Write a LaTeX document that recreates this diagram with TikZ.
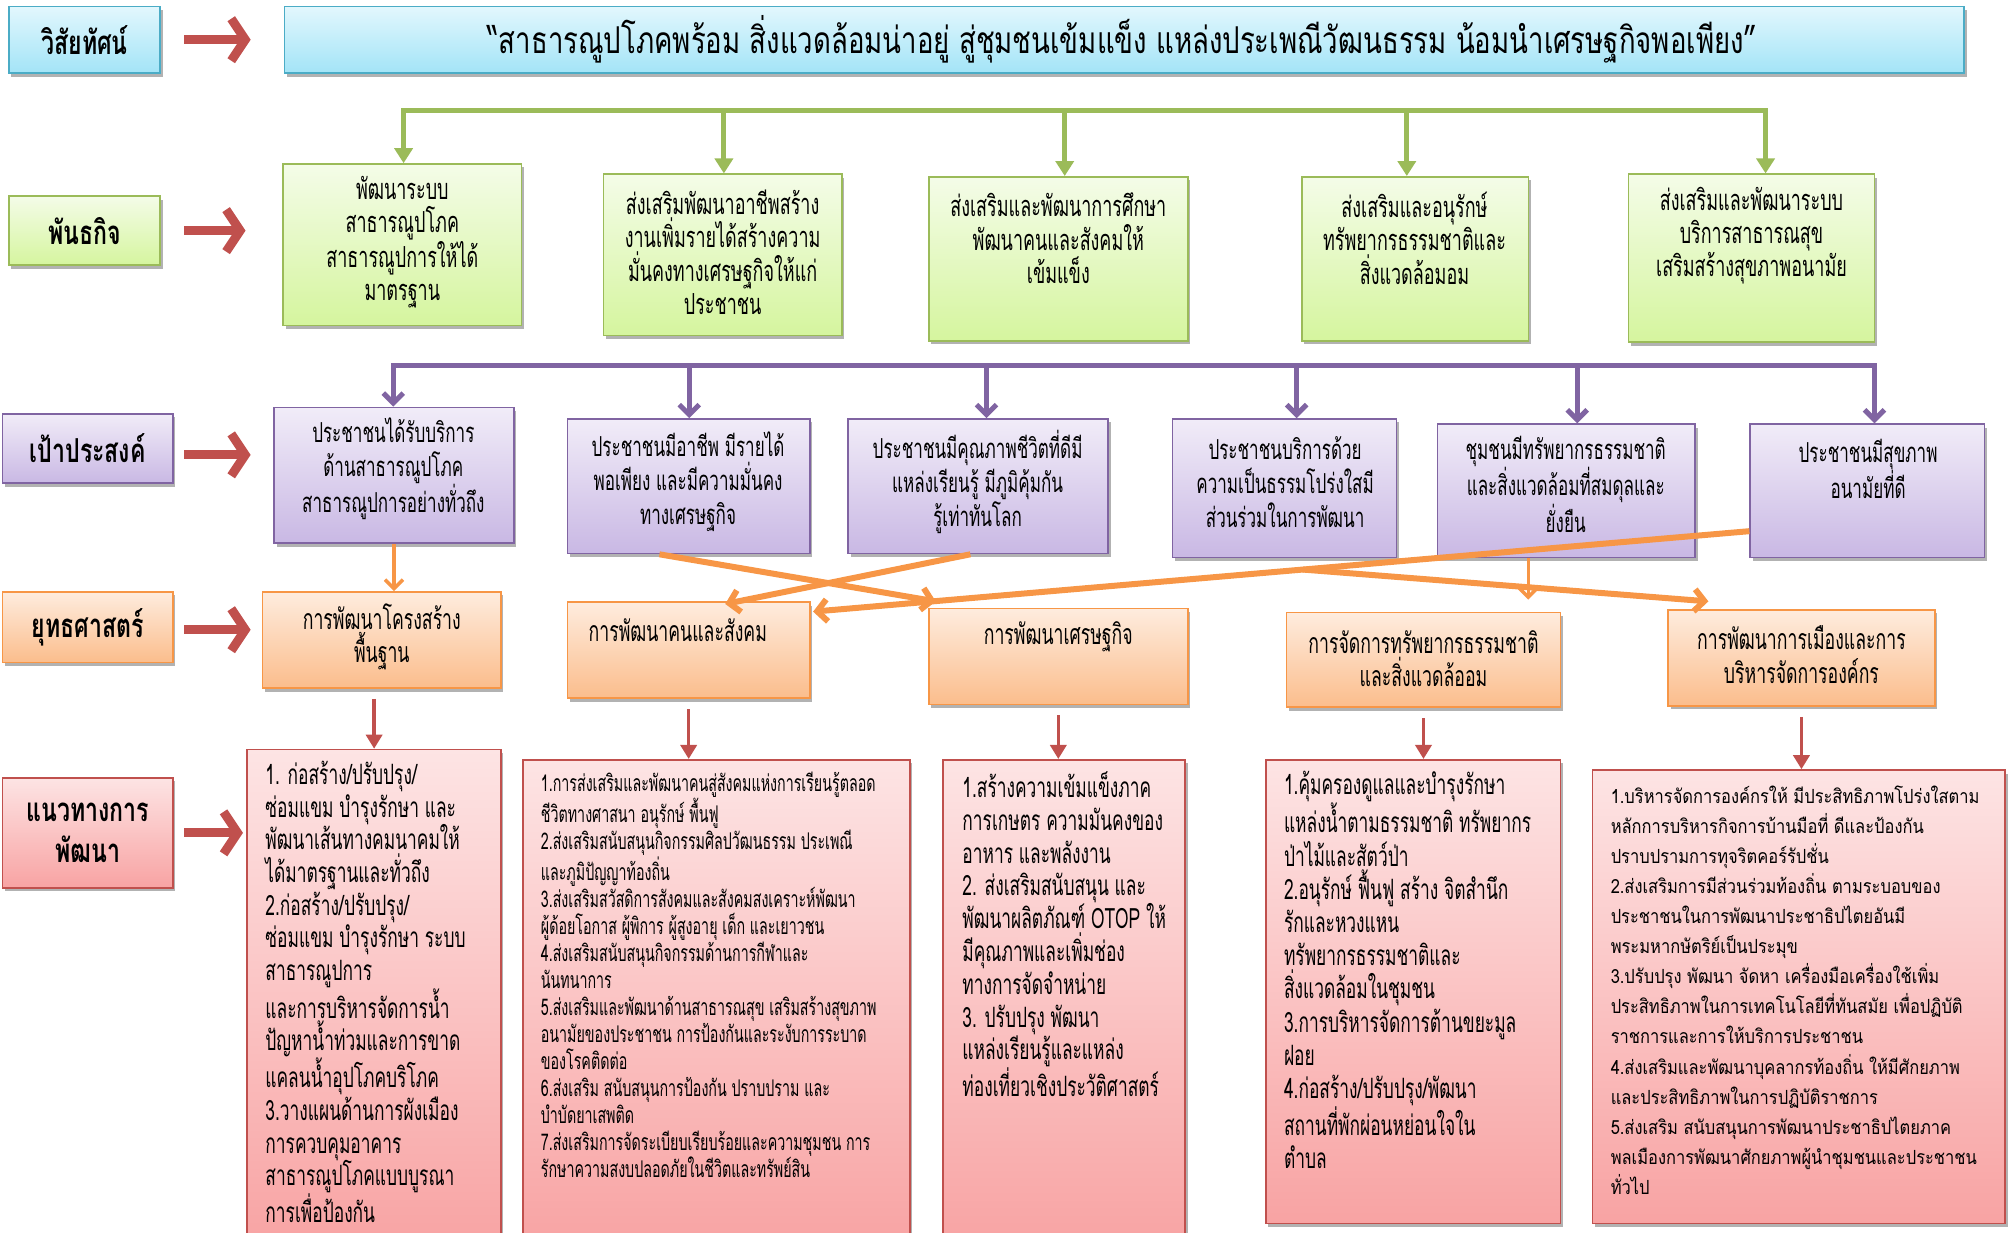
\documentclass[tikz,border=0pt]{standalone}
\usepackage{fontspec}
\newfontfamily\thaic[Script=Thai,FakeStretch=0.62]{Loma}
\newfontfamily\thaiv[Script=Thai,FakeStretch=0.745]{Loma}
\newfontfamily\thail[Script=Thai,FakeStretch=0.7]{Loma}
\newfontfamily\thaiw[Script=Thai,FakeStretch=0.845]{Loma}
\usetikzlibrary{arrows.meta,shadows,fit,calc}
\definecolor{cyanB}{HTML}{4BACC6}\definecolor{cyanT}{HTML}{E2F7FD}\definecolor{cyanD}{HTML}{A3E4F7}
\definecolor{grnB}{HTML}{9BBB59}\definecolor{grnT}{HTML}{F4FCE8}\definecolor{grnD}{HTML}{D5F59E}
\definecolor{purB}{HTML}{8064A2}\definecolor{purT}{HTML}{F1ECF8}\definecolor{purD}{HTML}{C9B8E4}
\definecolor{oraB}{HTML}{F79646}\definecolor{oraT}{HTML}{FEECDE}\definecolor{oraD}{HTML}{FBBD8C}
\definecolor{redB}{HTML}{C0504D}\definecolor{redT}{HTML}{FDE4E4}\definecolor{redD}{HTML}{F8A3A3}
\newcommand\tfMis{\thaic\fontsize{29}{33.3}\selectfont}
\newcommand\tfGoal{\thaic\fontsize{27.5}{34}\selectfont}
\newcommand\tfStr{\thaic\fontsize{28.5}{33.3}\selectfont}
\newcommand\tfGa{\thaic\fontsize{28}{32.6}\selectfont}
\newcommand\tfGb{\thaic\fontsize{23}{27}\selectfont}
\newcommand\tfGc{\thaic\fontsize{28}{32.8}\selectfont}
\newcommand\tfGd{\thaic\fontsize{28}{33.2}\selectfont}
\newcommand\tfGe{\thaiw\fontsize{19.5}{30.1}\selectfont}
\newcommand\tfVis{\thaiv\fontsize{37}{40}\selectfont}
\newcommand\tfLab{\thail\bfseries\fontsize{33}{41}\selectfont}
\tikzset{
  box/.style={draw, line width=1.6pt, inner sep=0pt,
    drop shadow={shadow xshift=2.5pt,shadow yshift=-3.5pt,opacity=0.3,fill=black}},
  cbox/.style={box, draw=cyanB, top color=cyanT, bottom color=cyanD},
  gbox/.style={box, draw=grnB, top color=grnT, bottom color=grnD},
  pbox/.style={box, draw=purB, top color=purT, bottom color=purD},
  obox/.style={box, draw=oraB, top color=oraT, bottom color=oraD},
  rbox/.style={box, draw=redB, top color=redT, bottom color=redD},
  tb/.style={inner sep=0pt, align=center, text=black},
  tl/.style={inner sep=0pt, align=left, text=black, anchor=north west},
  bigarrow/.style={draw=redB, line width=9pt, -{Straight Barb[length=14pt,width=42pt,line width=9pt]}},
  garrow/.style={draw=grnB, line width=5pt, -{Triangle[length=15pt,width=18pt]}},
  gbus/.style={draw=grnB, line width=5pt, line cap=rect},
  parrow/.style={draw=purB, line width=5pt, -{Straight Barb[length=10pt,width=20pt]}},
  pbus/.style={draw=purB, line width=5pt, line cap=rect},
  oarrow/.style={draw=oraB, line width=6pt, -{Straight Barb[length=10pt,width=22pt]}},
  othin/.style={draw=oraB, line width=3.5pt, -{Straight Barb[length=9pt,width=18pt]}},
  rarrow/.style={draw=redB, line width=3.5pt, -{Triangle[length=14pt,width=16pt]}},
}
\begin{document}
\begin{tikzpicture}[x=1.2812pt,y=-1.2812pt]
\useasboundingbox (0,0) rectangle (1568,962);
\clip (0,0) rectangle (1568,962);
% left labels
\node[cbox, fit={(7,5) (125,57)}] (Lvis) {};
\node[gbox, fit={(7,153) (125,207)}] (Lmis) {};
\node[pbox, fit={(2,323) (135,377)}] (Lgoal) {};
\node[obox, fit={(2,462) (135,517)}] (Lstr) {};
\node[rbox, fit={(2,607) (135,693)}] (Lgl) {};
\node[tb, font=\tfLab] (Lvist) at (Lvis.center) {วิสัยทัศน์};
\node[tb, font=\tfLab] (Lmist) at (Lmis.center) {พันธกิจ};
\node[tb, font=\tfLab] (Lgoalt) at (Lgoal.center) {เป้าประสงค์};
\node[tb, font=\tfLab] (Lstrt) at (Lstr.center) {ยุทธศาสตร์};
\node[tb, font=\tfLab] (Lglt) at (Lgl.center) {แนวทางการ\\พัฒนา};
% vision
\node[cbox, fit={(222,5) (1533,57)}] (vis) {};
\node[tb, font=\tfVis] (vist) at (876,31) {“สาธารณูปโภคพร้อม สิ่งแวดล้อมน่าอยู่ สู่ชุมชนเข้มแข็ง แหล่งประเพณีวัฒนธรรม น้อมนำเศรษฐกิจพอเพียง”};
% missions
\node[gbox, fit={(221,128) (407,254)}] (m1) {};
\node[gbox, fit={(471,136) (657,262)}] (m2) {};
\node[gbox, fit={(725,138) (927,266)}] (m3) {};
\node[gbox, fit={(1016,138) (1193,266)}] (m4) {};
\node[gbox, fit={(1271,136) (1463,267)}] (m5) {};
\node[tb, font=\tfMis] (m1t) at (314,189) {พัฒนาระบบ\\สาธารณูปโภค\\สาธารณูปการให้ได้\\มาตรฐาน};
\node[tb, font=\tfMis] (m2t) at (564,197) {ส่งเสริมพัฒนาอาชีพสร้าง\\งานเพิ่มรายได้สร้างความ\\มั่นคงทางเศรษฐกิจให้แก่\\ประชาชน};
\node[tb, font=\tfMis] (m3t) at (826,186) {ส่งเสริมและพัฒนาการศึกษา\\พัฒนาคนและสังคมให้\\เข้มแข็ง};
\node[tb, font=\tfMis] (m4t) at (1104,186) {ส่งเสริมและอนุรักษ์\\ทรัพยากรธรรมชาติและ\\สิ่งแวดล้อมอม};
\node[tb, font=\tfMis] (m5t) at (1367,184) {ส่งเสริมและพัฒนาระบบ\\บริการสาธารณสุข\\เสริมสร้างสุขภาพอนามัย};
% goals
\node[pbox, fit={(214,318) (401,424)}] (g1) {};
\node[pbox, fit={(443,327) (632,432)}] (g2) {};
\node[pbox, fit={(662,327) (865,432)}] (g3) {};
\node[pbox, fit={(915,327) (1090,435)}] (g4) {};
\node[pbox, fit={(1122,331) (1323,435)}] (g5) {};
\node[pbox, fit={(1366,331) (1549,435)}] (g6) {};
\node[tb, font=\tfGoal] (g1t) at (307,366) {ประชาชนได้รับบริการ\\ด้านสาธารณูปโภค\\สาธารณูปการอย่างทั่วถึง};
\node[tb, font=\tfGoal] (g2t) at (537,376) {ประชาชนมีอาชีพ มีรายได้\\พอเพียง และมีความมั่นคง\\ทางเศรษฐกิจ};
\node[tb, font=\tfGoal] (g3t) at (763,376) {ประชาชนมีคุณภาพชีวิตที่ดีมี\\แหล่งเรียนรู้ มีภูมิคุ้มกัน\\รู้เท่าทันโลก};
\node[tb, font=\tfGoal] (g4t) at (1003,376) {ประชาชนบริการด้วย\\ความเป็นธรรมโปร่งใสมี\\ส่วนร่วมในการพัฒนา};
\node[tb, font=\tfGoal] (g5t) at (1222,378) {ชุมชนมีทรัพยากรธรรมชาติ\\และสิ่งแวดล้อมที่สมดุลและ\\ยั่งยืน};
\node[tb, font=\tfGoal] (g6t) at (1458,366) {ประชาชนมีสุขภาพ\\อนามัยที่ดี};
% strategies
\node[obox, fit={(205,462) (391,537)}] (s1) {};
\node[obox, fit={(443,470) (632,545)}] (s2) {};
\node[obox, fit={(725,475) (927,550)}] (s3) {};
\node[obox, fit={(1004,478) (1218,552)}] (s4) {};
\node[obox, fit={(1302,476) (1510,551)}] (s5) {};
\node[tb, font=\tfStr] (s1t) at (298,497) {การพัฒนาโครงสร้าง\\พื้นฐาน};
\node[tb, font=\tfStr] (s2t) at (529,492) {การพัฒนาคนและสังคม};
\node[tb, font=\tfStr] (s3t) at (826,497) {การพัฒนาเศรษฐกิจ};
\node[tb, font=\tfStr] (s4t) at (1111,514) {การจัดการทรัพยากรธรรมชาติ\\และสิ่งแวดล้ออม};
\node[tb, font=\tfStr] (s5t) at (1406,511) {การพัฒนาการเมืองและการ\\บริหารจัดการองค์กร};
% guidelines
\node[rbox, fit={(193,585) (391,975)}] (gl1) {};
\node[rbox, fit={(408,593) (710,975)}] (gl2) {};
\node[rbox, fit={(736,593) (925,975)}] (gl3) {};
\node[rbox, fit={(988,593) (1218,955)}] (gl4) {};
\node[rbox, fit={(1243,601) (1565,955)}] (gl5) {};
\node[tl, font=\tfGa] (gl1t) at (207,594) {1. ก่อสร้าง/ปรับปรุง/\\ซ่อมแขม บำรุงรักษา และ\\พัฒนาเส้นทางคมนาคมให้\\ได้มาตรฐานและทั่วถึง\\2.ก่อสร้าง/ปรับปรุง/\\ซ่อมแขม บำรุงรักษา ระบบ\\สาธารณูปการ\\และการบริหารจัดการน้ำ\\ปัญหาน้ำท่วมและการขาด\\แคลนน้ำอุปโภคบริโภค\\3.วางแผนด้านการผังเมือง\\การควบคุมอาคาร\\สาธารณูปโภคแบบบูรณา\\การเพื่อป้องกัน};
\node[tl, font=\tfGb] (gl2t) at (422,602) {1.การส่งเสริมและพัฒนาคนสู่สังคมแห่งการเรียนรู้ตลอด\\ชีวิตทางศาสนา อนุรักษ์ พื้นฟู\\2.ส่งเสริมสนับสนุนกิจกรรมศิลปวัฒนธรรม ประเพณี\\และภูมิปัญญาท้องถิ่น\\3.ส่งเสริมสวัสดิการสังคมและสังคมสงเคราะห์พัฒนา\\ผู้ด้อยโอกาส ผู้พิการ ผู้สูงอายุ เด็ก และเยาวชน\\4.ส่งเสริมสนับสนุนกิจกรรมด้านการกีฬาและ\\นันทนาการ\\5.ส่งเสริมและพัฒนาด้านสาธารณสุข เสริมสร้างสุขภาพ\\อนามัยของประชาชน การป้องกันและระงับการระบาด\\ของโรคติดต่อ\\6.ส่งเสริม สนับสนุนการป้องกัน ปราบปราม และ\\บำบัดยาเสพติด\\7.ส่งเสริมการจัดระเบียบเรียบร้อยและความชุมชน การ\\รักษาความสงบปลอดภัยในชีวิตและทรัพย์สิน};
\node[tl, font=\tfGc] (gl3t) at (751,602) {1.สร้างความเข้มแข็งภาค\\การเกษตร ความมันคงของ\\อาหาร และพลังงาน\\2. ส่งเสริมสนับสนุน และ\\พัฒนาผลิตภัณฑ์ OTOP ให้\\มีคุณภาพและเพิ่มช่อง\\ทางการจัดจำหน่าย\\3. ปรับปรุง พัฒนา\\แหล่งเรียนรู้และแหล่ง\\ท่องเที่ยวเชิงประวัติศาสตร์};
\node[tl, font=\tfGd] (gl4t) at (1002,602) {1.คุ้มครองดูแลและบำรุงรักษา\\แหล่งน้ำตามธรรมชาติ ทรัพยากร\\ป่าไม้และสัตว์ป่า\\2.อนุรักษ์ ฟื้นฟู สร้าง จิตสำนึก\\รักและหวงแหน\\ทรัพยากรธรรมชาติและ\\สิ่งแวดล้อมในชุมชน\\3.การบริหารจัดการต้านขยะมูล\\ฝอย\\4.ก่อสร้าง/ปรับปรุง/พัฒนา\\สถานที่พักผ่อนหย่อนใจใน\\ตำบล};
\node[tl, font=\tfGe] (gl5t) at (1257,613) {1.บริหารจัดการองค์กรให้ มีประสิทธิภาพโปร่งใสตาม\\หลักการบริหารกิจการบ้านมือที่ ดีและป้องกัน\\ปราบปรามการทุจริตคอร์รัปชั่น\\2.ส่งเสริมการมีส่วนร่วมท้องถิ่น ตามระบอบของ\\ประชาชนในการพัฒนาประชาธิปไตยอันมี\\พระมหากษัตริย์เป็นประมุข\\3.ปรับปรุง พัฒนา จัดหา เครื่องมือเครื่องใช้เพิ่ม\\ประสิทธิภาพในการเทคโนโลยีที่ทันสมัย เพื่อปฏิบัติ\\ราชการและการให้บริการประชาชน\\4.ส่งเสริมและพัฒนาบุคลากรท้องถิ่น ให้มีศักยภาพ\\และประสิทธิภาพในการปฏิบัติราชการ\\5.ส่งเสริม สนับสนุนการพัฒนาประชาธิปไตยภาค\\พลเมืองการพัฒนาศักยภาพผู้นำชุมชนและประชาชน\\ทั่วไป};
% big red arrows
\draw[bigarrow] ($(Lvis.east)+(18,0)$) -- ($(Lvis.east)+(70,0)$);
\draw[bigarrow] ($(Lmis.east)+(18,0)$) -- ($(Lmis.east)+(66,0)$);
\draw[bigarrow] ($(Lgoal.east)+(8,5)$) -- ($(Lgoal.east)+(60,5)$);
\draw[bigarrow] ($(Lstr.east)+(8,2)$) -- ($(Lstr.east)+(60,2)$);
\draw[bigarrow] ($(Lgl.east)+(8,0)$) -- ($(Lgl.east)+(54,0)$);
% green bus
\coordinate (gj1) at (315,86);
\coordinate (gj2) at (565,86);
\coordinate (gj3) at (831,86);
\coordinate (gj4) at (1098,86);
\coordinate (gj5) at (1378,86);
\draw[gbus] (gj1) -- (gj5);
\draw[garrow] (gj1) -- (gj1 |- m1.north);
\draw[garrow] (gj2) -- (gj2 |- m2.north);
\draw[garrow] (gj3) -- (gj3 |- m3.north);
\draw[garrow] (gj4) -- (gj4 |- m4.north);
\draw[garrow] (gj5) -- (gj5 |- m5.north);
% purple bus
\coordinate (pj1) at (307,285);
\coordinate (pj2) at (538,285);
\coordinate (pj3) at (770,285);
\coordinate (pj4) at (1012,285);
\coordinate (pj5) at (1231,285);
\coordinate (pj6) at (1463,285);
\draw[pbus] (pj1) -- (pj6);
\draw[parrow] (pj1) -- (pj1 |- g1.north);
\draw[parrow] (pj2) -- (pj2 |- g2.north);
\draw[parrow] (pj3) -- (pj3 |- g3.north);
\draw[parrow] (pj4) -- (pj4 |- g4.north);
\draw[parrow] (pj5) -- (pj5 |- g5.north);
\draw[parrow] (pj6) -- (pj6 |- g6.north);
% orange goal -> strategy
\coordinate (o1s) at ($(g2.south west)!0.38!(g2.south east)$);
\coordinate (o1e) at ($(s3.north west)+(6,-5)$);
\coordinate (o2s) at ($(g3.south west)!0.47!(g3.south east)$);
\coordinate (o2e) at ($(s2.north west)!0.65!(s2.north east)+(0,2)$);
\coordinate (o3s) at ($(g6.north west)!0.8!(g6.south west)$);
\coordinate (o3e) at ($(s2.north east)+(2,8)$);
\coordinate (o4s) at ($(o3s)!0.477!(o3e)$);
\coordinate (o4e) at ($(s5.north west)+(32,-6)$);
\coordinate (o5s) at ($(g5.south west)!0.353!(g5.south east)$);
\draw[othin] (g1.south) -- (g1.south |- s1.north);
\draw[oarrow] (o1s) -- (o1e);
\draw[oarrow] (o2s) -- (o2e);
\draw[oarrow] (o3s) -- (o3e);
\draw[oarrow] (o4s) -- (o4e);
\draw[othin, shorten >=12pt] (o5s) -- (o5s |- s4.north);
% red strategy -> guideline
\draw[rarrow, shorten <=10pt] (gl1.north |- s1.south) -- (gl1.north);
\draw[rarrow, shorten <=10pt] (s2.south) -- (s2.south |- gl2.north);
\draw[rarrow, shorten <=10pt] (s3.south) -- (s3.south |- gl3.north);
\draw[rarrow, shorten <=10pt] (s4.south) -- (s4.south |- gl4.north);
\draw[rarrow, shorten <=10pt] (s5.south) -- (s5.south |- gl5.north);
\end{tikzpicture}
\end{document}
